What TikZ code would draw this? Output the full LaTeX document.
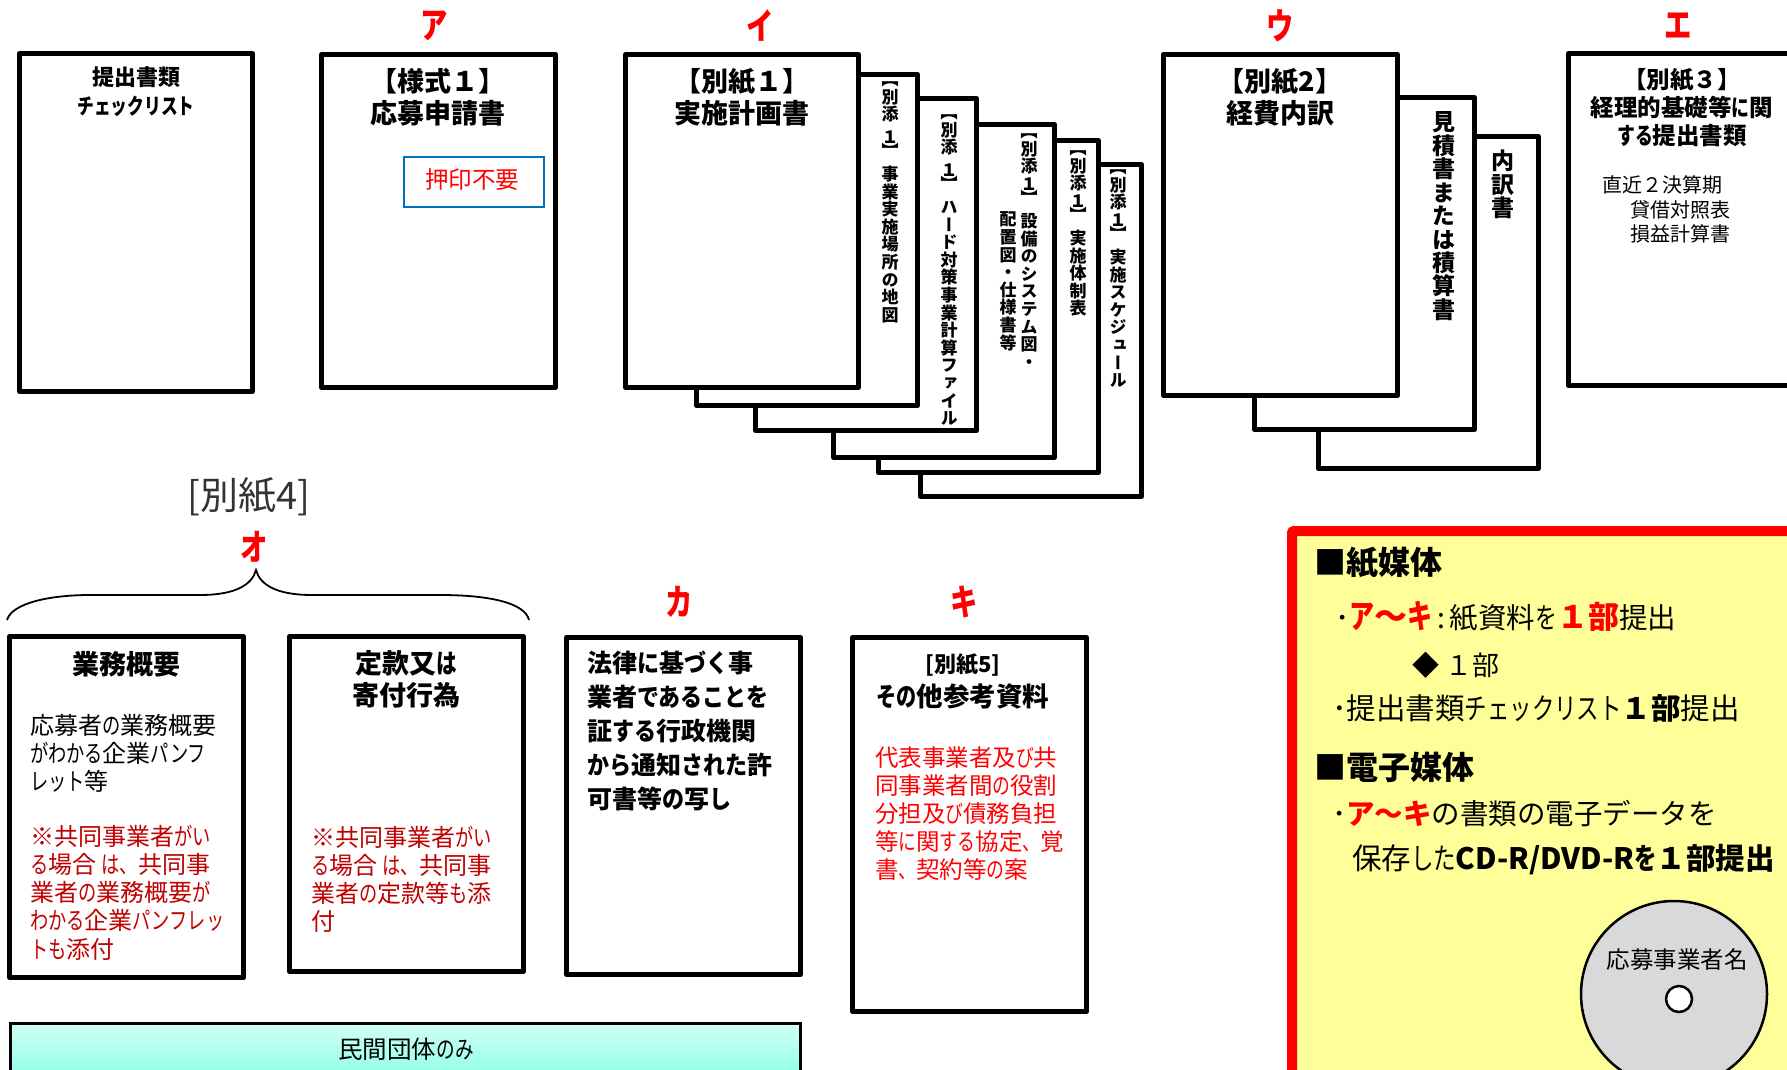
\documentclass[tikz,border=0pt]{standalone}
\usepackage{fontspec}
\setmainfont{Noto Sans CJK JP}
\newfontfamily\kanaf[FakeStretch=0.76]{Noto Sans CJK JP}
\newfontfamily\kanam[FakeStretch=0.88]{Noto Sans CJK JP}
\newfontfamily\vertf[RawFeature=+vert]{Noto Sans CJK JP}
\usetikzlibrary{shapes.geometric}
% narrow kana, as the reference's UI face has
\newXeTeXintercharclass\kanacl
\newcommand\kanasel{\kanaf}
\makeatletter
\count@="3041 \loop\ifnum\count@<"3097 \XeTeXcharclass\count@=\kanacl \advance\count@ 1 \repeat
\count@="30A1 \loop\ifnum\count@<"30FB \XeTeXcharclass\count@=\kanacl \advance\count@ 1 \repeat
\XeTeXcharclass"30FC=\kanacl
\XeTeXcharclass"3001=\kanacl
\XeTeXinterchartoks 0 \kanacl = {\kanasel}
\XeTeXinterchartoks 4095 \kanacl = {\kanasel}
\XeTeXinterchartoks \kanacl 0 = {\rmfamily}
\XeTeXinterchartoks \kanacl 4095 = {\rmfamily}
\XeTeXinterchartokenstate=1
% vertical stacked text:  \vs{size}{pitch}{tokens}; \hs widens, \nk tightens the pitch
\newcommand\hs{\relax}\newcommand\nk{\relax}
\def\hsm{\hs}\def\nkm{\nk}
\newcommand\vs[3]{{\XeTeXinterchartokenstate=0 \fontsize{#1pt}{#2pt}\vertf\bfseries
  \vbox{\baselineskip=#2pt\lineskiplimit=-\maxdimen\lineskip=0pt\relax
  \@tfor\vc:=#3\do{\ifx\vc\hsm\kern.3em\else\ifx\vc\nkm\kern-.2em\else\hbox to 1.1em{\hss\vc\hss}\fi\fi}}}}
\makeatother
\definecolor{dred}{HTML}{C00000}
\definecolor{pblue}{HTML}{0070C0}
\definecolor{pyellow}{HTML}{FFFF99}
\definecolor{cdgray}{HTML}{D9D9D9}
\definecolor{bandtop}{HTML}{D2FFF6}
\definecolor{bandbot}{HTML}{88FFE6}
\tikzset{
 paper/.style={draw=black,fill=white,line width=5pt,line join=round,inner sep=0pt,rectangle},
 txt/.style={inner sep=0pt,outer sep=0pt},
 kana/.style={txt,text=red,font=\bfseries\fontsize{36pt}{36pt}\selectfont},
 head/.style={txt,align=center,font=\bfseries\fontsize{27pt}{32pt}\selectfont},
 body/.style={txt,align=left,font=\fontsize{24pt}{28.2pt}\selectfont},
 panel/.style={txt,anchor=west,font=\fontsize{28.5pt}{28pt}\selectfont},
 panelh/.style={txt,anchor=west,font=\bfseries\fontsize{32pt}{32pt}\selectfont},
}
\newcommand\paper[5]{\pgfmathsetmacro\pw{#4-#2-5}\pgfmathsetmacro\ph{#5-#3-5}%
 \node[paper,minimum width=\pw pt,minimum height=\ph pt] (#1) at ({(#2+#4)/2},{(#3+#5)/2}) {};}
\begin{document}
\begin{tikzpicture}[x=1pt,y=-1pt]
\clip (0,0) rectangle (1787,1070);
\fill[white] (0,0) rectangle (1787,1070);
% top row
\paper{chk}{17}{51}{255}{394}
\paper{a}{319}{52}{558}{390}
\paper{i5}{918}{162}{1144}{499}
\paper{i4}{876}{138}{1101}{475}
\paper{i3}{831}{122}{1057}{460}
\paper{i2}{753}{96}{979}{433}
\paper{i1}{694}{72}{920}{408}
\paper{i}{623}{52}{861}{390}
\paper{u2}{1316}{134}{1541}{471}
\paper{u1}{1252}{95}{1477}{432}
\paper{u}{1161}{52}{1400}{398}
\paper{e}{1566}{51}{1830}{388}
% bottom row
\paper{o1}{7}{634}{246}{980}
\paper{o2}{287}{634}{526}{974}
\paper{ka}{564}{635}{803}{977}
\paper{ki}{850}{635}{1089}{1014}
% red letters
\node[kana] (la) at (434,26) {ア};
\node[kana] (li) at (760,26) {イ};
\node[kana] (lu) at (1280,26) {ウ};
\node[kana] (le) at (1678,26) {エ};
\node[kana] (lo) at (254,547) {オ};
\node[kana] (lk) at (679,602) {カ};
\node[kana] (lq) at (964,602) {キ};
% top texts
\node[head,font=\bfseries\fontsize{22pt}{29pt}\selectfont] (tchk) at (136,92) {提出書類\\チェックリスト};
\node[head] (ta) at (438,97) {【様式１】\\応募申請書};
\node[draw=pblue,line width=2pt,minimum width=140pt,minimum height=50pt,inner sep=0pt] (stamp) at (474,182) {};
\node[txt,text=red,font=\fontsize{23.5pt}{24pt}\selectfont] (tstamp) at (472,180) {押印不要};
\node[head] (ti) at (742,97) {【別紙１】\\実施計画書};
\node[head] (tu) at (1280,97) {【別紙2】\\経費内訳};
\node[head,font=\bfseries\fontsize{23.5pt}{28pt}\selectfont] (te) at (1682,108) {【別紙３】\\経理的基礎等に関\\する提出書類};
\node[body,font=\fontsize{20pt}{24.5pt}\selectfont,anchor=north west] (te2) at (1602,176) {直近２決算期\\\hspace*{28pt}貸借対照表\\\hspace*{28pt}損益計算書};
% vertical texts
\node[txt,anchor=north] (v1) at (890,82) {\vs{17}{17.6}{【別添\hs １\nk 】\hs 事業実施場所の地図}};
\node[txt,anchor=north] (v2) at (949,115) {\vs{17}{17.6}{【別添\hs １\nk 】\hs ハード対策事業計算ファイル}};
\node[txt,anchor=north] (v3a) at (1029,134) {\vs{17}{17.6}{【別添１\nk 】\hs 設備のシステム図・}};
\node[txt,anchor=north] (v3b) at (1008,212) {\vs{17}{17.6}{配置図・仕様書等}};
\node[txt,anchor=north] (v4) at (1078,151) {\vs{17}{17.6}{【別添１\nk 】\hs 実施体制表}};
\node[txt,anchor=north] (v5) at (1118,170) {\vs{17}{17.6}{【別添１\nk 】\hs 実施スケジュール}};
\node[txt,anchor=north] (v6) at (1444,112) {\vs{23}{23.4}{見積書または積算書}};
\node[txt,anchor=north] (v7) at (1503,150) {\vs{23}{23.4}{内訳書}};
% sheet 4
\node[txt,font=\fontsize{38pt}{38pt}\selectfont,text=black!80] (s4) at (249,497) {[別紙4]};
\draw[line width=1.8pt] (7,620) .. controls (12,603) and (50,595) .. (90,595) -- (200,595) .. controls (235,595) and (252,585) .. (256,570) .. controls (260,585) and (277,595) .. (312,595) -- (440,595) .. controls (490,595) and (525,603) .. (529,620);
% bottom texts
\node[head] (to1) at (126,664) {業務概要};
\node[body,anchor=north west] (to1b) at (30,714) {応募者の業務概要\\がわかる企業パンフ\\レット等};
\node[body,anchor=north west,text=dred] (to1c) at (30,825) {※共同事業者がい\\る場合 は、共同事\\業者の業務概要が\\わかる企業パンフレッ\\トも添付};
\node[head] (to2) at (406,679) {定款又は\\寄付行為};
\node[body,anchor=north west,text=dred] (to2c) at (311,826) {※共同事業者がい\\る場合 は、共同事\\業者の定款等も添\\付};
\node[txt,align=left,anchor=north west,font=\bfseries\fontsize{25pt}{34pt}\selectfont\let\kanasel\kanam] (tka) at (587,651) {法律に基づく事\\業者であることを\\証する行政機関\\から通知された許\\可書等の写し};
\node[head,font=\bfseries\fontsize{26.5pt}{34pt}\selectfont] (tki) at (963,681) {{\fontsize{22pt}{34pt}\selectfont [別紙5]}\\その他参考資料};
\node[body,anchor=north west,text=red,font=\fontsize{23.5pt}{28pt}\selectfont] (tki2) at (875,747) {代表事業者及び共\\同事業者間の役割\\分担及び債務負担\\等に関する協定、覚\\書、契約等の案};
% band
\node[draw=black,line width=3pt,top color=bandtop,bottom color=bandbot,inner sep=0pt,minimum width=790pt,minimum height=58pt] (band) at (405.5,1052) {};
\node[txt,font=\fontsize{24.5pt}{24pt}\selectfont] (tband) at (406,1049) {民間団体のみ};
% yellow panel
\node[draw=red,fill=pyellow,line width=10pt,rounded corners=2pt,inner sep=0pt,minimum width=600pt,minimum height=620pt,anchor=north west] (pan) at (1287,526) {};
\node[panelh] (p1) at (1314,563) {■紙媒体};
\node[panel] (p2) at (1335,616) {･{\color{red}\bfseries\fontsize{33pt}{28pt}\selectfont ア～キ}\,:\,紙資料を{\color{red}\bfseries\fontsize{31pt}{28pt}\selectfont １部}提出};
\node[panel,font=\fontsize{27pt}{28pt}\selectfont] (p3) at (1412,665) {◆ １部};
\node[panel,font=\fontsize{29.5pt}{28pt}\selectfont] (p4) at (1332,708) {･提出書類チェックリスト{\bfseries １部}提出};
\node[panelh] (p5) at (1314,767) {■電子媒体};
\node[panel] (p6) at (1332,814) {\let\kanasel\rmfamily ･{\color{red}\bfseries ア～キ}の書類の電子データを};
\node[panel,font=\fontsize{29.5pt}{28pt}\selectfont] (p7) at (1352,860) {保存した{\bfseries CD-R/DVD-Rを１部提出}};
\node[circle,draw=black,fill=cdgray,line width=2.5pt,minimum size=186pt,inner sep=0pt] (cd) at (1674,994) {};
\node[circle,draw=black,fill=white,line width=2.5pt,minimum size=26pt,inner sep=0pt] (hole) at (1679,999) {};
\node[txt,font=\fontsize{23.5pt}{24pt}\selectfont] (tcd) at (1677,960) {応募事業者名};
\end{tikzpicture}
\end{document}
